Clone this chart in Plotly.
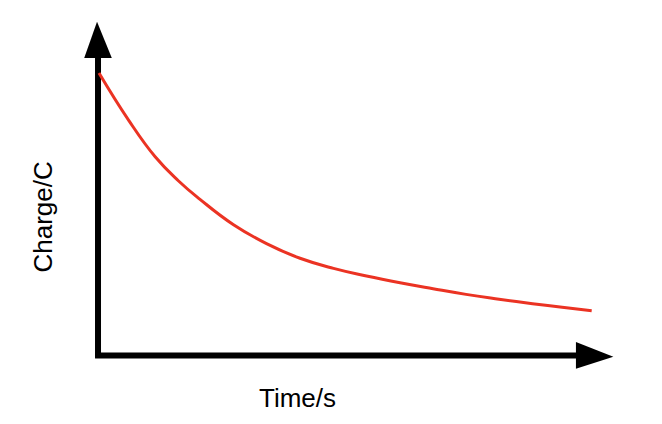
import plotly.graph_objects as go

# Data (time and charge in arbitrary units)
time_s = [0, 0.6, 1.14, 1.61, 2.05, 2.73, 3.4, 4.08, 4.76, 5.43, 6.11, 6.78, 7.45, 8.12, 8.8, 9.4, 10]
charge_c = [10, 8.33, 7.03, 6.18, 5.52, 4.62, 3.95, 3.43, 3.07, 2.80, 2.56, 2.35, 2.15, 1.98, 1.82, 1.69, 1.57]

x_label = "Time/s"
y_label = "Charge/C"

# The page body has an 8px default margin; figure is sized to fit inside the window
OFF = 8
W, H = 662 - OFF, 424 - OFF
X_RANGE = [-1.847, 11.427]
Y_RANGE = [-2.447, 12.305]

fig = go.Figure()
fig.add_trace(go.Scatter(
    x=time_s, y=charge_c, mode="lines",
    line=dict(color="#EB3323", width=3, shape="spline", smoothing=1.3),
    hoverinfo="skip", showlegend=False,
))

axis_color = "black"
shapes = [
    dict(type="line", x0=-0.02, x1=-0.02, y0=-0.1, y1=10.6,
         line=dict(color=axis_color, width=6), layer="below"),
    dict(type="line", x0=-0.08, x1=9.72, y0=-0.02, y1=-0.02,
         line=dict(color=axis_color, width=6), layer="below"),
    dict(type="path", path="M -0.30,10.53 L 0.26,10.53 L -0.04,11.82 Z",
         fillcolor=axis_color, line=dict(color=axis_color, width=0)),
    dict(type="path", path="M 9.68,0.46 L 9.68,-0.49 L 10.44,-0.06 Z",
         fillcolor=axis_color, line=dict(color=axis_color, width=0)),
]

font = dict(family="Liberation Sans, Arial", size=26, color="black")
fig.update_layout(
    width=W, height=H,
    margin=dict(l=0, r=0, t=0, b=0),
    paper_bgcolor="white", plot_bgcolor="white",
    xaxis=dict(range=X_RANGE, visible=False, fixedrange=True),
    yaxis=dict(range=Y_RANGE, visible=False, fixedrange=True),
    shapes=shapes,
    annotations=[
        dict(text=x_label, xref="paper", yref="paper",
             x=(297.5 - OFF) / W, y=1 - (398 - OFF) / H,
             xanchor="center", yanchor="middle", showarrow=False, font=font),
        dict(text=y_label, xref="paper", yref="paper",
             x=(42.5 - OFF) / W, y=1 - (217 - OFF) / H,
             xanchor="center", yanchor="middle", textangle=-90,
             showarrow=False, font=font),
    ],
)

fig.write_html("out.html")
